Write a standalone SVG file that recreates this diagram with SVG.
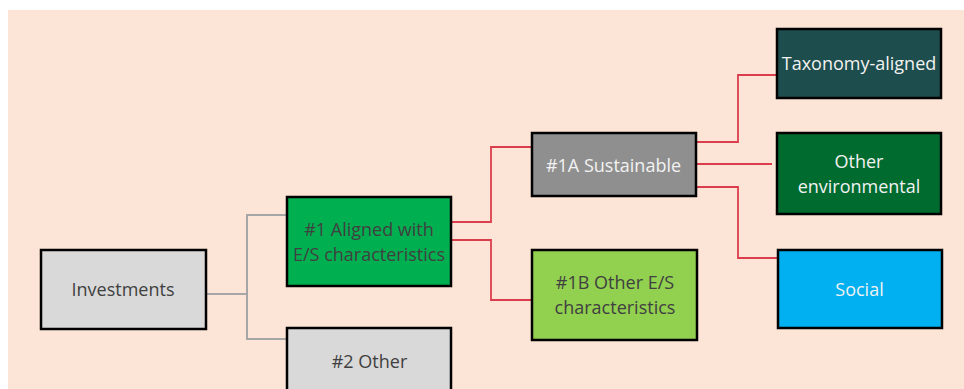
<svg xmlns="http://www.w3.org/2000/svg" width="964" height="389" viewBox="0 0 964 389">
<style>
.box{stroke:#000;stroke-width:2.5}
.t{font-family:"Open Sans","Liberation Sans",sans-serif;font-size:18px;text-anchor:middle}
.dk{fill:#404040}
.lt{fill:#F2F2F2}
.g{fill:none;stroke:#A6A6A6;stroke-width:2}
.r{fill:none;stroke:#DC3D4D;stroke-width:1.8}
</style>
<rect x="0" y="0" width="964" height="389" fill="#FFFFFF"/>
<rect x="8" y="10" width="956" height="379" fill="#FCE4D6"/>
<g id="connectors">
<polyline class="g" points="206,294 247,294"/>
<polyline class="g" points="287,215 247,215 247,339 287,339"/>
<polyline class="r" points="451,222 491,222 491,147 532,147"/>
<polyline class="r" points="451,240 491,240 491,300 532,300"/>
<polyline class="r" points="696,142 738,142 738,75 778,75"/>
<polyline class="r" points="696,164 772,164"/>
<polyline class="r" points="696,187 738,187 738,258 779,258"/>
</g>
<g id="investments">
<rect class="box" x="41" y="250" width="165" height="79" fill="#D9D9D9"/>
<text class="t dk" x="123" y="296">Investments</text>
</g>
<g id="aligned">
<rect class="box" x="287" y="197" width="164" height="89" fill="#00B050"/>
<text class="t dk" x="369" y="236">#1 Aligned with</text>
<text class="t dk" x="369" y="261">E/S characteristics</text>
</g>
<g id="other">
<rect class="box" x="287" y="328" width="164" height="80" fill="#D9D9D9"/>
<text class="t dk" x="369.5" y="368">#2 Other</text>
</g>
<g id="sustainable">
<rect class="box" x="532" y="133" width="164" height="63" fill="#8F8F8F"/>
<text class="t lt" x="613.5" y="172">#1A Sustainable</text>
</g>
<g id="other-es">
<rect class="box" x="532" y="250" width="165" height="90" fill="#92D050"/>
<text class="t dk" x="615" y="289">#1B Other E/S</text>
<text class="t dk" x="615" y="314">characteristics</text>
</g>
<g id="taxonomy">
<rect class="box" x="777" y="29" width="164" height="69" fill="#1E4D4D"/>
<text class="t lt" x="859" y="70">Taxonomy-aligned</text>
</g>
<g id="other-env">
<rect class="box" x="777" y="133" width="164" height="81" fill="#006B2F"/>
<text class="t lt" x="859" y="168">Other</text>
<text class="t lt" x="859" y="193">environmental</text>
</g>
<g id="social">
<rect class="box" x="778" y="250" width="164" height="78" fill="#00B0F0"/>
<text class="t lt" x="859.5" y="296">Social</text>
</g>
</svg>
